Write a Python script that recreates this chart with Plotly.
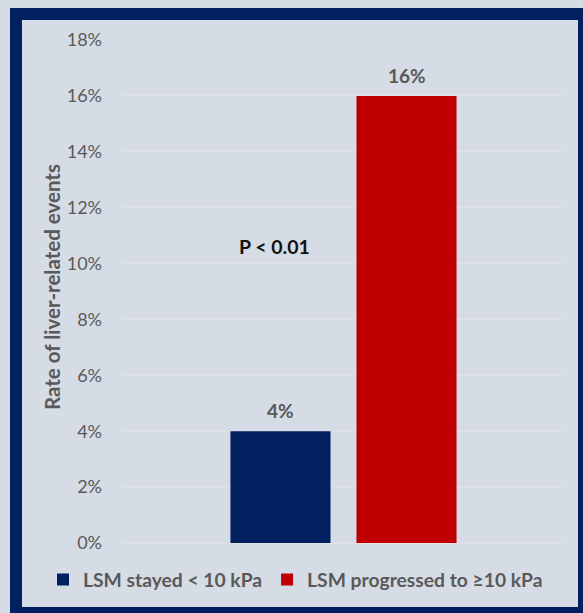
import plotly.graph_objects as go

# Chart values
series_names = ["LSM stayed < 10 kPa", "LSM progressed to \u226510 kPa"]
series_values = [4, 16]
series_colors = ["#002060", "#C00000"]
category = ["Patients"]
y_ticks = [0, 2, 4, 6, 8, 10, 12, 14, 16, 18]
y_tick_labels = [f"{t}%" for t in y_ticks]
p_label = "P < 0.01"
y_title = "Rate of liver-related events"

W, H = 583, 613
L, R, T, B = 122, 18, 40, 70
PW, PH = W - L - R, H - T - B
BARGAP, BARGROUPGAP = 0.431, 0.206


def px_x(px):
    return (px - L) / PW


def px_y(py):
    return (H - B - py) / PH


FONT = "Lato"
GRAY = "#595959"

fig = go.Figure()
for name, val, col in zip(series_names, series_values, series_colors):
    fig.add_trace(go.Bar(
        x=category,
        y=[val],
        name=name,
        marker=dict(color=col, line=dict(width=0)),
    ))

# Value labels above each bar (bar slot offset within the group, in px)
slot_px = PW * (1 - BARGAP) / len(series_values)
for i, val in enumerate(series_values):
    offset = (i - (len(series_values) - 1) / 2) * slot_px
    fig.add_annotation(
        x=category[0], y=val, xref="x", yref="y",
        text=f"{val}%", showarrow=False,
        xshift=offset, yshift=7, yanchor="bottom",
        font=dict(family=FONT, size=19, color=GRAY, weight="bold"),
    )

fig.update_layout(
    width=W, height=H,
    margin=dict(l=L, r=R, t=T, b=B, autoexpand=False),
    paper_bgcolor="#D6DCE5",
    plot_bgcolor="#D6DCE5",
    barmode="group",
    bargap=BARGAP,
    bargroupgap=BARGROUPGAP,
    showlegend=True,
    legend=dict(
        orientation="h",
        xref="paper", yref="paper",
        x=px_x(43), xanchor="left",
        y=px_y(580), yanchor="middle",
        font=dict(family=FONT, size=19.3, color=GRAY, weight="bold"),
        bgcolor="rgba(0,0,0,0)",
        itemsizing="constant",
        itemwidth=30,
        tracegroupgap=0,
    ),
    xaxis=dict(showticklabels=False, showgrid=False, zeroline=False,
               showline=False, ticks=""),
    yaxis=dict(
        range=[0, 18],
        tickvals=y_ticks,
        ticktext=y_tick_labels,
        showgrid=True, gridcolor="#E2E2E2", gridwidth=1,
        zeroline=True, zerolinecolor="#E2E2E2", zerolinewidth=1,
        showline=False, ticks="",
        tickfont=dict(family=FONT, size=18, color=GRAY),
        ticklabelstandoff=19,
    ),
    font=dict(family=FONT),
)

# Axis title and p-value note
fig.add_annotation(
    text=y_title, textangle=-90,
    xref="paper", yref="paper", x=px_x(52), y=px_y(287),
    showarrow=False, xanchor="center", yanchor="middle",
    font=dict(family=FONT, size=20.5, color=GRAY, weight="bold"),
)
fig.add_annotation(
    text=p_label,
    xref="paper", yref="paper", x=px_x(274), y=px_y(246),
    showarrow=False, xanchor="center", yanchor="middle",
    font=dict(family=FONT, size=19.5, color="#111111", weight="bold"),
)

# Navy frame around the chart
fig.add_shape(
    type="rect", xref="paper", yref="paper",
    x0=px_x(16), x1=px_x(584), y0=px_y(613), y1=px_y(14),
    line=dict(color="#002060", width=12), fillcolor="rgba(0,0,0,0)",
    layer="above",
)

fig.write_html("out.html")
